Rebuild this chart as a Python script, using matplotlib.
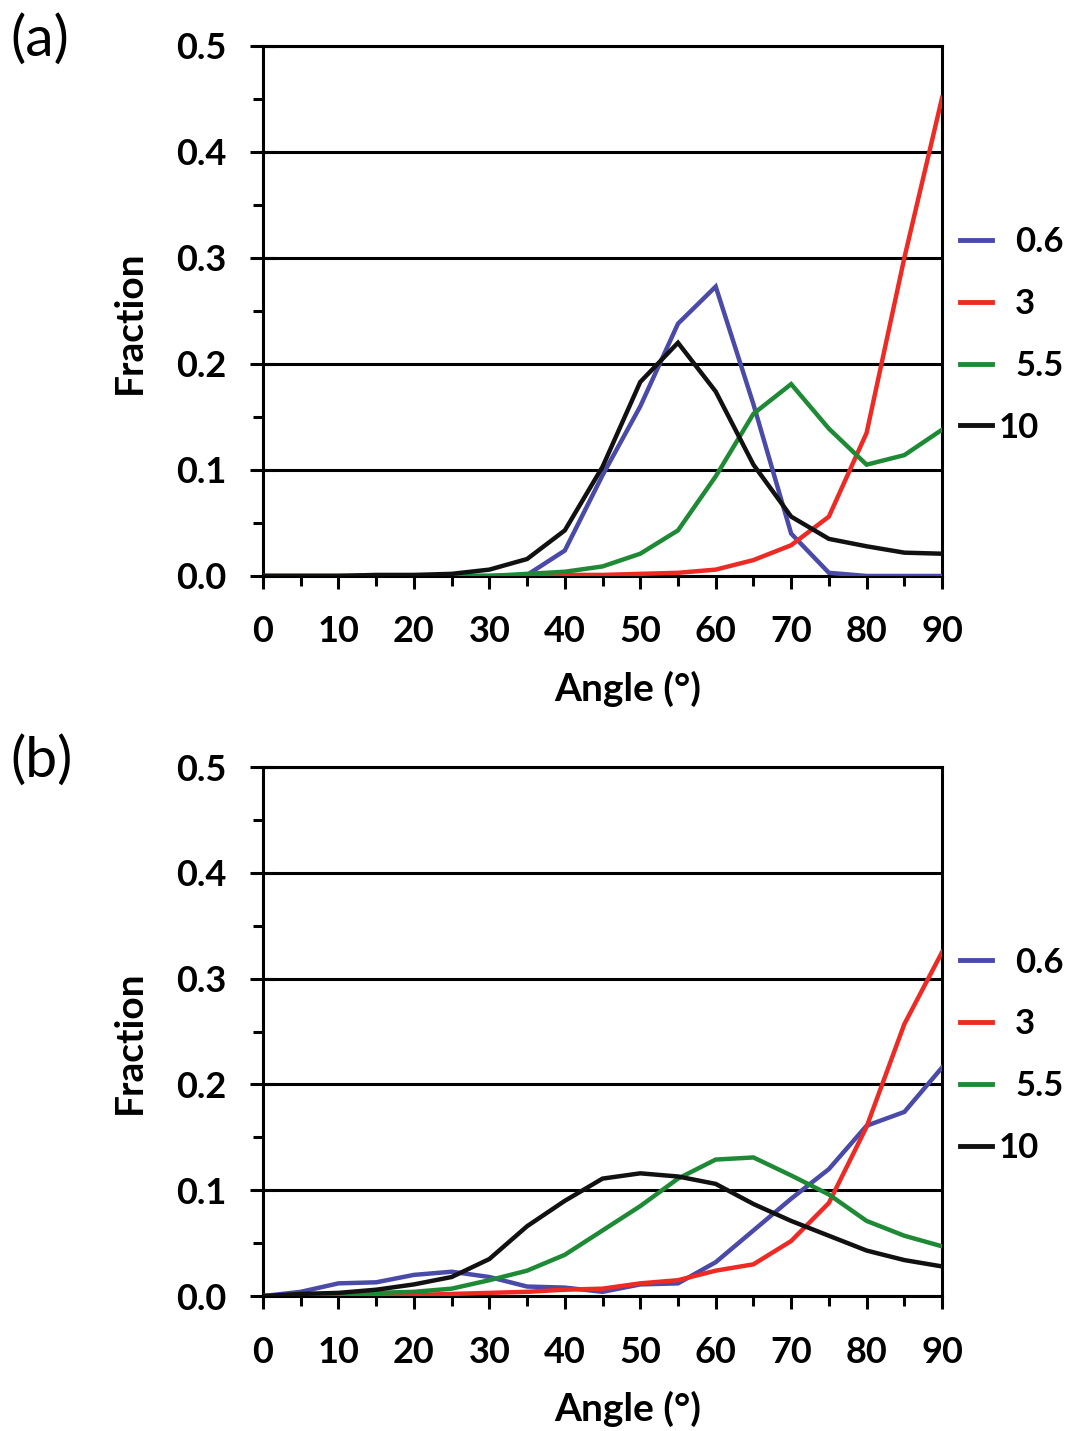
import matplotlib
matplotlib.use("Agg")
import matplotlib.pyplot as plt
from matplotlib.ticker import MultipleLocator
from matplotlib.transforms import ScaledTranslation

plt.rcParams['font.family'] = ['Lato', 'DejaVu Sans']

angles = [0, 5, 10, 15, 20, 25, 30, 35, 40, 45, 50, 55, 60, 65, 70, 75, 80, 85, 90]
series_labels = ["0.6", "3", "5.5", "10"]
series_colors = ["#4a4aa8", "#ee2a24", "#1f8a36", "#111111"]

# Panel (a)
a_06 = [0, 0, 0, 0, 0, 0, 0, 0.001, 0.024, 0.095, 0.160, 0.238, 0.273, 0.162, 0.040, 0.003, 0, 0, 0]
a_3 = [0, 0, 0, 0, 0, 0, 0, 0, 0.001, 0.001, 0.002, 0.003, 0.006, 0.015, 0.029, 0.056, 0.135, 0.300, 0.451]
a_55 = [0, 0, 0, 0, 0, 0, 0, 0.002, 0.004, 0.009, 0.021, 0.043, 0.094, 0.153, 0.181, 0.139, 0.105, 0.114, 0.138]
a_10 = [0, 0, 0, 0.001, 0.001, 0.002, 0.006, 0.016, 0.043, 0.103, 0.183, 0.220, 0.174, 0.105, 0.056, 0.035, 0.028, 0.022, 0.021]

# Panel (b)
b_06 = [0, 0.004, 0.012, 0.013, 0.020, 0.023, 0.018, 0.009, 0.008, 0.004, 0.011, 0.012, 0.032, 0.062, 0.092, 0.120, 0.161, 0.174, 0.216]
b_3 = [0, 0, 0, 0, 0.001, 0.002, 0.003, 0.004, 0.006, 0.007, 0.012, 0.015, 0.024, 0.030, 0.052, 0.088, 0.160, 0.257, 0.325]
b_55 = [0, 0.001, 0.002, 0.003, 0.004, 0.007, 0.015, 0.024, 0.039, 0.062, 0.085, 0.111, 0.129, 0.131, 0.114, 0.096, 0.071, 0.057, 0.047]
b_10 = [0, 0.002, 0.003, 0.006, 0.011, 0.018, 0.035, 0.066, 0.090, 0.111, 0.116, 0.113, 0.106, 0.087, 0.071, 0.057, 0.043, 0.034, 0.028]

panels = [("(a)", [a_06, a_3, a_55, a_10]), ("(b)", [b_06, b_3, b_55, b_10])]

fig = plt.figure(figsize=(10.67, 14.31), dpi=100)
rects = [[0.2465, 0.5975, 0.6364, 0.3704], [0.2465, 0.0943, 0.6364, 0.3697]]

TS = 26
for (plabel, data), rect in zip(panels, rects):
    ax = fig.add_axes(rect)
    for vals, lab, col in zip(data, series_labels, series_colors):
        ax.plot(angles, vals, color=col, lw=3.2, label=lab, solid_joinstyle='miter', zorder=3)
    ax.set_xlim(0, 90)
    ax.set_ylim(0, 0.5)
    ax.xaxis.set_major_locator(MultipleLocator(10))
    ax.xaxis.set_minor_locator(MultipleLocator(5))
    ax.yaxis.set_major_locator(MultipleLocator(0.1))
    ax.yaxis.set_minor_locator(MultipleLocator(0.05))
    ax.yaxis.set_major_formatter(plt.FuncFormatter(lambda v, p: f"{v:.1f}"))
    ax.grid(axis='y', which='major', color='black', lw=2.2, zorder=1)
    for s in ax.spines.values():
        s.set_linewidth(2.2)
        s.set_color('black')
    ax.tick_params(axis='x', which='major', direction='out', length=9.4, width=2.2, labelsize=TS, pad=19)
    ax.tick_params(axis='x', which='minor', direction='out', length=7.2, width=2.2)
    ax.tick_params(axis='y', which='major', direction='inout', length=18.7, width=2.2, labelsize=TS, pad=17)
    ax.tick_params(axis='y', which='minor', direction='out', length=7.2, width=2.2)
    for t in ax.get_xticklabels() + ax.get_yticklabels():
        t.set_fontweight('bold')
    ax.set_xlabel("Angle (°)", fontsize=28, fontweight='bold', labelpad=16)
    ax.xaxis.label.set_x(0.537)
    ax.set_ylabel("Fraction", fontsize=28, fontweight='bold', labelpad=21)
    ax.yaxis.label.set_y(0.479)
    ax.text(-0.3726, 1.012, plabel, transform=ax.transAxes, fontsize=41, ha='left', va='center')
    leg = ax.legend(loc='center left', bbox_to_anchor=(1.006, 0.455), frameon=False,
                    borderaxespad=0, handlelength=0.92, handletextpad=0.67, labelspacing=0.86,
                    prop={'weight': 'bold', 'size': 25})
    for ln in leg.get_lines():
        ln.set_linewidth(3.5)
    t10 = leg.get_texts()[3]
    t10.set_transform(t10.get_transform() + ScaledTranslation(-0.17, 0, fig.dpi_scale_trans))

fig.savefig("out.png", dpi=100)
